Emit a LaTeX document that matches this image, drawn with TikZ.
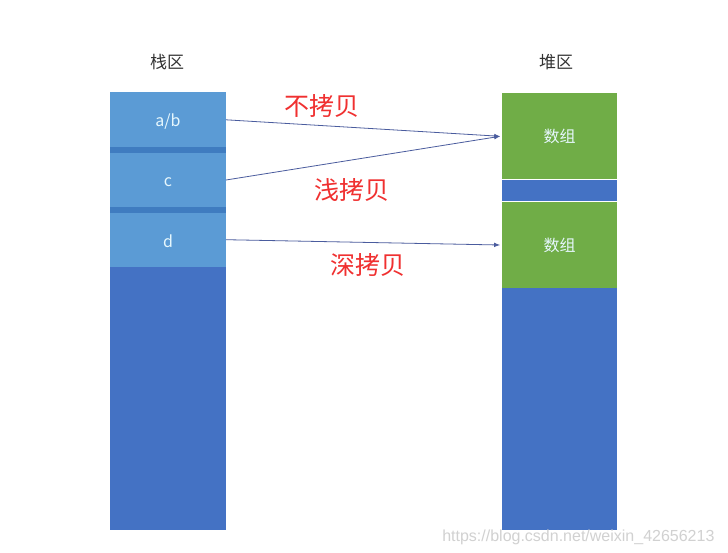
\documentclass[tikz,border=0pt]{standalone}
\usepackage{fontspec}
\usetikzlibrary{arrows.meta}
\setmainfont{Liberation Sans}
\newfontfamily\cjk{Noto Sans CJK SC}
\definecolor{cellblue}{HTML}{5B9BD5}
\definecolor{bandblue}{HTML}{3F7CC0}
\definecolor{deepblue}{HTML}{4472C4}
\definecolor{heapgreen}{HTML}{70AD47}
\definecolor{arrowblue}{HTML}{4A5C9E}
\definecolor{labelred}{HTML}{F03030}
\begin{document}
\begin{tikzpicture}[x=1pt,y=-1pt,
	block/.style={fill=#1, draw=none, inner sep=0pt, outer sep=0pt,
	minimum width=116pt, anchor=north west},
	celltext/.style={text=white!90!cyan, font=\cjk\fontsize{16}{16}\selectfont},
	title/.style={font=\cjk\fontsize{17}{17}\selectfont, text=black!80},
	copylabel/.style={font=\cjk\fontsize{25}{25}\selectfont, text=labelred},
	link/.style={draw=arrowblue, line width=0.8pt, -{Latex[length=6pt,width=4.5pt]}}]
\useasboundingbox (0,0) rectangle (728,552);
\fill[white] (0,0) rectangle (728,552);
% Stapel links
\node [block=deepblue, minimum height=437.7pt, name=stack] at (110,92.3) {};
\node [block=bandblue, minimum height=120.4pt, name=stackband] at (110,92.3) {};
\node [block=cellblue, minimum height=55pt, name=ab] at (110,92.3) {};
\node [block=cellblue, minimum height=53.4pt, name=c] at (110,153.3) {};
\node [block=cellblue, minimum height=54pt, name=d] at (110,212.7) {};
\node [celltext, name=abtext] at ([yshift=-2pt]ab.center) {a/b};
\node [celltext, name=ctext] at ([yshift=-2pt]c.center) {c};
\node [celltext, name=dtext] at ([yshift=-2pt]d.center) {d};
% Heap rechts
\node [block=deepblue, minimum height=436.7pt, minimum width=115.6pt, name=heap] at (501.7,93.3) {};
\node [block=heapgreen, minimum height=86pt, minimum width=115.6pt, celltext, name=arr1] at (501.7,93.3) {数组};
\node [block=heapgreen, minimum height=86.6pt, minimum width=115.6pt, celltext, name=arr2] at (501.7,201.7) {数组};
\draw [white, line width=0.8pt] (arr1.south west) -- (arr1.south east);
\draw [white, line width=0.8pt] (arr2.north west) -- (arr2.north east);
% Ueberschriften
\node [title, name=stacktitle] at (167,62) {栈区};
\node [title, name=heaptitle] at (556,62) {堆区};
% Pfeile
\draw [link] (ab.east) -- ([xshift=-1.5pt]arr1.west);
\draw [link] (c.east) -- ([xshift=-1.5pt]arr1.west);
\draw [link] (d.east) -- ([xshift=-1.5pt]arr2.west);
% Beschriftungen
\node [copylabel, name=nocopy] at (322,106) {不拷贝};
\node [copylabel, name=shallow] at (352,190) {浅拷贝};
\node [copylabel, name=deep] at (368,265) {深拷贝};
% Wasserzeichen
\node [anchor=east, text=black!18, font=\fontsize{16}{16}\selectfont, name=mark] at (718,537) {https://blog.csdn.net/weixin\_42656213};
\end{tikzpicture}
\end{document}
